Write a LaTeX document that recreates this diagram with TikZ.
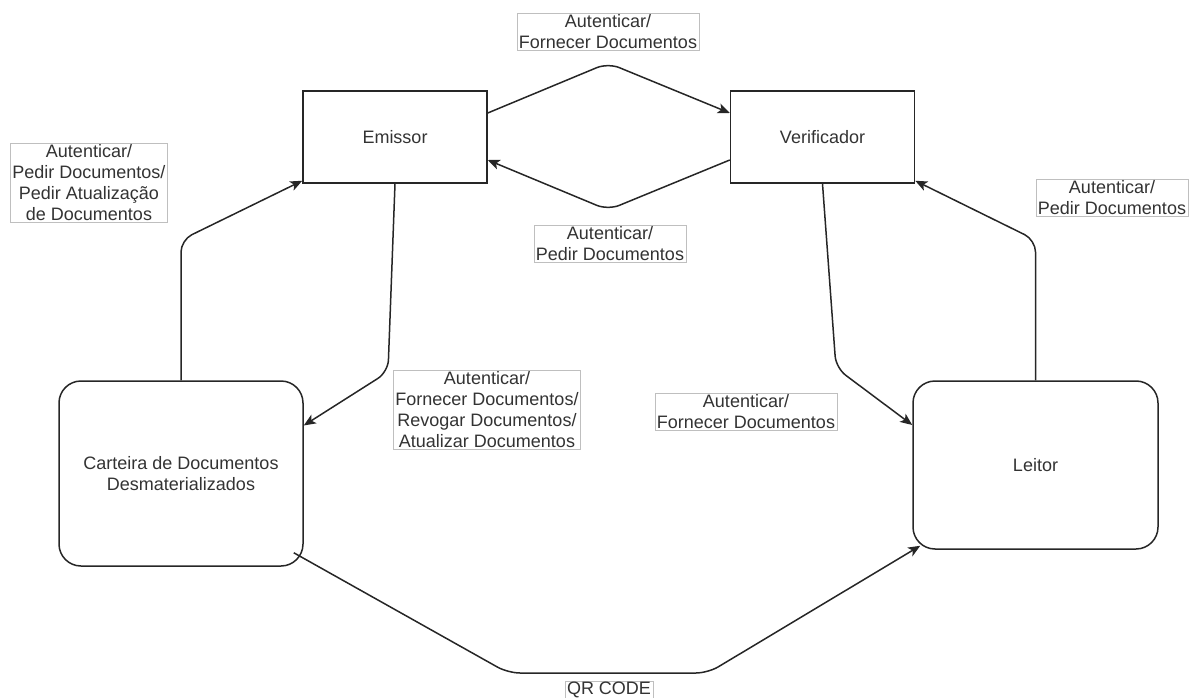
\documentclass[tikz,border=0pt]{standalone}
\usepackage{fontspec}
\setmainfont{Liberation Sans}
\usetikzlibrary{arrows.meta}
\begin{document}
\begin{tikzpicture}[x=1pt,y=-1pt,
  every node/.style={font=\fontsize{18}{21}\selectfont, text=black!80},
  actor/.style={draw=black!85, line width=1.5pt, minimum width=184pt, minimum height=92pt, inner sep=0pt},
  party/.style={draw=black!85, line width=1.5pt, rounded corners=22pt, inner sep=0pt, align=center},
  tag/.style={draw=black!25, line width=0.8pt, fill=white, align=center, inner xsep=2pt, inner ysep=1pt},
  flow/.style={draw=black!85, line width=1.5pt, rounded corners=12pt,
    -{Stealth[length=12pt,width=10pt,inset=3pt]}}]

\useasboundingbox (0,0) rectangle (1197,698);

% the four parties
\node[actor] (emi) at (395,137) {Emissor};
\node[actor] (ver) at (822.5,137) {Verificador};
\node[party, minimum width=244pt, minimum height=185pt] (car) at (181,473.5)
  {Carteira de Documentos\\Desmaterializados};
\node[party, minimum width=245pt, minimum height=168pt] (lei) at (1035.5,465) {Leitor};

% message flows
\draw[flow] (car.north) -- (181,240) -- ([yshift=3pt]emi.south west);
\draw[flow] (emi.south) -- (388,372) -- ([yshift=48pt]car.east);
\draw[flow] ([yshift=24pt]emi.east) -- (608,63) -- ([yshift=24pt]ver.west);
\draw[flow] ([yshift=-23pt]ver.west) -- (608,210) -- ([yshift=-23pt]emi.east);
\draw[flow] (ver.south) -- (836,368) -- ([yshift=40pt]lei.west);
\draw[flow] (lei.north) -- (1035.5,240) -- ([yshift=3pt]ver.south east);
\draw[flow] ([xshift=-10pt,yshift=14pt]car.south east) -- (508,673) -- (708,673)
  -- ([xshift=8pt,yshift=4pt]lei.south west);

% flow labels
\node[tag] (l1) at (608,32) {Autenticar/\\Fornecer Documentos};
\node[tag] (l2) at (89,183) {Autenticar/\\Pedir Documentos/\\Pedir Atualização\\de Documentos};
\node[tag] (l3) at (610,244) {Autenticar/\\Pedir Documentos};
\node[tag] (l4) at (1112,198) {Autenticar/\\Pedir Documentos};
\node[tag] (l5) at (487,410) {Autenticar/\\Fornecer Documentos/\\Revogar Documentos/\\Atualizar Documentos};
\node[tag] (l6) at (746,412) {Autenticar/\\Fornecer Documentos};
\node[tag] (l7) at (609,690) {QR CODE};
\end{tikzpicture}
\end{document}
